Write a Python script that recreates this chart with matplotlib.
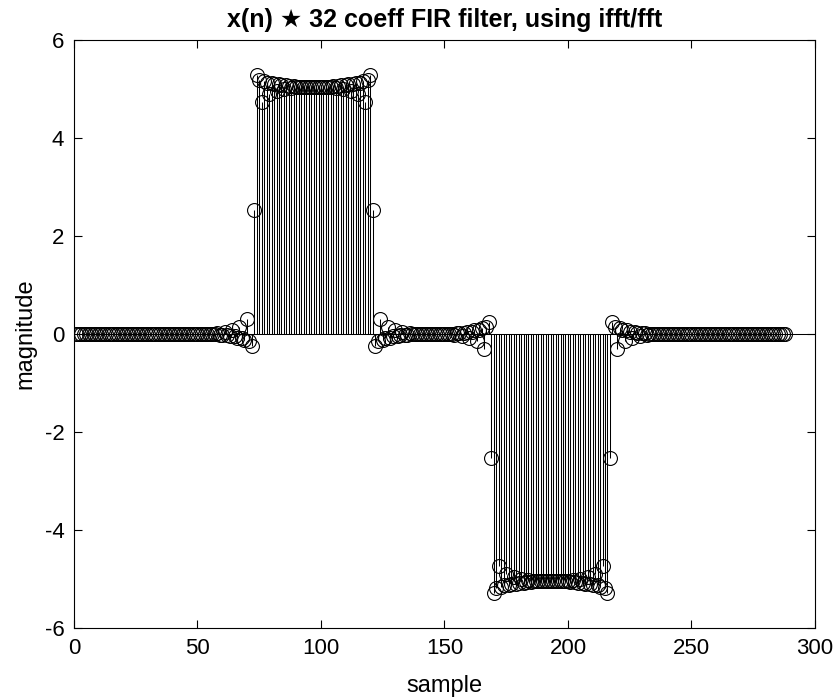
import numpy as np
import matplotlib.pyplot as plt

# ========================
# Data (filtered pulse train, 288 samples)
# ========================
lead_zeros = [0.0] * 56                       # n = 1..56
edge_up = [-0.01, 0.02, -0.02, -0.03, 0.05, -0.03, -0.05, 0.09,
           -0.05, -0.08, 0.15, -0.08, -0.12, 0.31, -0.14, -0.24,
           2.53,
           5.29, 5.19, 4.74, 5.17, 5.13, 4.90, 5.13, 5.10,
           4.96, 5.10, 5.08, 5.00, 5.08, 5.07, 5.03, 5.06]   # n = 57..89
plateau_hi = [5.05] * 15                      # n = 90..104
edge_down = [5.06, 5.03, 5.07, 5.08, 5.00, 5.08, 5.10, 4.96,
             5.10, 5.13, 4.90, 5.13, 5.17, 4.74, 5.19, 5.29,
             2.53,
             -0.24, -0.14, 0.31, -0.12, -0.08, 0.15, -0.08, -0.05,
             0.09, -0.05, -0.03, 0.05, -0.03, -0.02, 0.02, -0.01]  # n = 105..137
gap_zeros = [0.0] * 15                        # n = 138..152
edge_neg = [0.01, -0.02, 0.02, 0.03, -0.05, 0.03, 0.05, -0.09,
            0.05, 0.08, -0.15, 0.08, 0.12, -0.31, 0.14, 0.24,
            -2.53,
            -5.29, -5.19, -4.74, -5.17, -5.13, -4.90, -5.13, -5.10,
            -4.96, -5.10, -5.08, -5.00, -5.08, -5.07, -5.03, -5.06]  # n = 153..185
plateau_lo = [-5.05] * 15                     # n = 186..200
edge_back = [-5.06, -5.03, -5.07, -5.08, -5.00, -5.08, -5.10, -4.96,
             -5.10, -5.13, -4.90, -5.13, -5.17, -4.74, -5.19, -5.29,
             -2.53,
             0.24, 0.14, -0.31, 0.12, 0.08, -0.15, 0.08, 0.05,
             -0.09, 0.05, 0.03, -0.05, 0.03, 0.02, -0.02, 0.01]  # n = 201..233
tail_zeros = [0.0] * 55                       # n = 234..288

values = (lead_zeros + edge_up + plateau_hi + edge_down + gap_zeros
          + edge_neg + plateau_lo + edge_back + tail_zeros)
samples = np.arange(1, len(values) + 1)

x_ticks = [0, 50, 100, 150, 200, 250, 300]
y_ticks = [-6, -4, -2, 0, 2, 4, 6]

# ========================
# Plot
# ========================
plt.rcParams['axes.unicode_minus'] = False
plt.rcParams['font.family'] = ['Liberation Sans', 'DejaVu Sans']

fig = plt.figure(figsize=(8.35, 6.98), dpi=100)
ax = fig.add_axes([0.0886, 0.1003, 0.8874, 0.8424])

markerline, stemlines, baseline = ax.stem(samples, values, linefmt='k-',
                                          markerfmt='ko', basefmt=' ')
plt.setp(stemlines, linewidth=0.75)
plt.setp(markerline, markerfacecolor='none', markeredgecolor='k',
         markersize=10, markeredgewidth=0.8)
ax.axhline(0, color='k', linewidth=0.75, zorder=1)

ax.set_xlim(0, 300)
ax.set_ylim(-6, 6)
ax.set_xticks(x_ticks)
ax.set_yticks(y_ticks)
ax.tick_params(direction='in', top=True, right=True, length=6,
               width=0.8, labelsize=16, pad=7)
for sp in ax.spines.values():
    sp.set_linewidth(0.8)

ax.set_xlabel("sample", fontsize=17, labelpad=12)
ax.set_ylabel("magnitude", fontsize=17, labelpad=6)
ax.set_title("x(n) \u2605 32 coeff FIR filter, using ifft/fft",
             fontsize=18, fontweight='bold', pad=9)

fig.savefig("out.png", dpi=100)
